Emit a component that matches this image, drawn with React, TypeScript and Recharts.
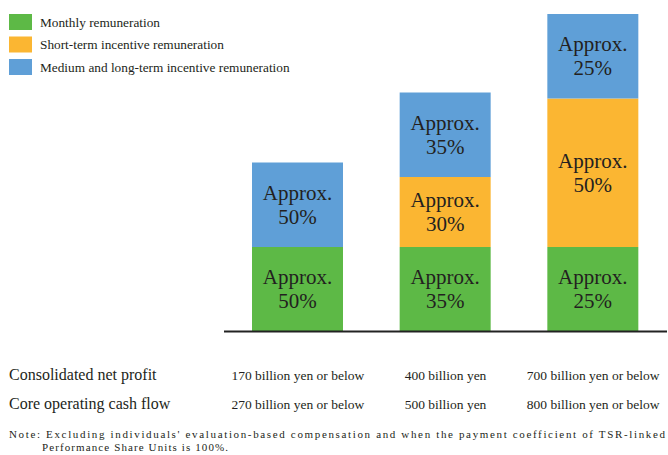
import { BarChart, Bar, XAxis, YAxis, LabelList } from 'recharts';

const tiers = ['Low', 'Target', 'High'];
const netProfit = ['170 billion yen or below', '400 billion yen', '700 billion yen or below'];
const cashFlow = ['270 billion yen or below', '500 billion yen', '800 billion yen or below'];

// bar heights relative to monthly remuneration = 100
const monthly = [100, 100, 100];
const shortTerm = [0, 83, 176];
const longTerm = [100, 100, 100];

const monthlyPct = [50, 35, 25];
const shortPct = [null, 30, 50];
const longPct = [50, 35, 25];

const seriesNames = ['Monthly remuneration', 'Short-term incentive remuneration', 'Medium and long-term incentive remuneration'];
const colors = ['#5db946', '#fbb632', '#5f9fd7'];

const data = tiers.map((t, i) => ({
  tier: t,
  monthly: monthly[i],
  shortTerm: shortTerm[i],
  longTerm: longTerm[i],
  monthlyPct: monthlyPct[i],
  shortPct: shortPct[i],
  longPct: longPct[i],
}));

const SERIF = '"Liberation Serif", "Times New Roman", serif';
const INK = '#231f20';

function SegmentLabel(props: any) {
  const { x, y, width, height, value } = props;
  if (value == null) return null;
  const cx = x + width / 2;
  const cy = y + height / 2;
  return (
    <g>
      <text x={cx} y={cy - 5} textAnchor="middle" fontFamily={SERIF} fontSize={21} fill={INK}>Approx.</text>
      <text x={cx} y={cy + 19} textAnchor="middle" fontFamily={SERIF} fontSize={21} fill={INK}>{value}%</text>
    </g>
  );
}

function TierTick(props: any) {
  const { x, payload } = props;
  const i = payload.index;
  return (
    <g>
      <text x={x} y={380} textAnchor="middle" fontFamily={SERIF} fontSize={13.5} fill={INK}>{netProfit[i]}</text>
      <text x={x} y={409} textAnchor="middle" fontFamily={SERIF} fontSize={13.5} fill={INK}>{cashFlow[i]}</text>
    </g>
  );
}

export default function App() {
  return (
    <div style={{ position: 'absolute', left: 0, top: 0, width: 668, height: 455, background: '#fff' }}>
      <BarChart width={668} height={455} data={data} margin={{ top: 14, right: 1, bottom: 93.5, left: 224 }}>
        <XAxis
          dataKey="tier"
          height={30}
          tickLine={false}
          axisLine={{ stroke: '#222', strokeWidth: 2 }}
          tick={<TierTick />}
          interval={0}
        />
        <YAxis hide domain={[0, 376]} />
        <Bar dataKey="monthly" stackId="a" fill={colors[0]} barSize={91} isAnimationActive={false}>
          <LabelList dataKey="monthlyPct" content={<SegmentLabel />} />
        </Bar>
        <Bar dataKey="shortTerm" stackId="a" fill={colors[1]} barSize={91} isAnimationActive={false}>
          <LabelList dataKey="shortPct" content={<SegmentLabel />} />
        </Bar>
        <Bar dataKey="longTerm" stackId="a" fill={colors[2]} barSize={91} isAnimationActive={false}>
          <LabelList dataKey="longPct" content={<SegmentLabel />} />
        </Bar>
      </BarChart>
      <svg width={668} height={455} style={{ position: 'absolute', left: 0, top: 0, pointerEvents: 'none' }}>
        {seriesNames.map((n, i) => (
          <g key={n}>
            <rect x={9} y={14 + i * 22.5} width={23} height={16} fill={colors[i]} />
            <text x={40} y={26.5 + i * 22.5} fontFamily={SERIF} fontSize={13.3} fill={INK}>{n}</text>
          </g>
        ))}
        <text x={9} y={380} fontFamily={SERIF} fontSize={16} fill={INK}>Consolidated net profit</text>
        <text x={9} y={409} fontFamily={SERIF} fontSize={16} fill={INK}>Core operating cash flow</text>
        <text x={9} y={437.5} fontFamily={SERIF} fontSize={11} fill={INK} textLength={656} lengthAdjust="spacing">
          Note: Excluding individuals' evaluation-based compensation and when the payment coefficient of TSR-linked
        </text>
        <text x={42} y={451} fontFamily={SERIF} fontSize={11} fill={INK} textLength={186} lengthAdjust="spacing">
          Performance Share Units is 100%.
        </text>
      </svg>
    </div>
  );
}
